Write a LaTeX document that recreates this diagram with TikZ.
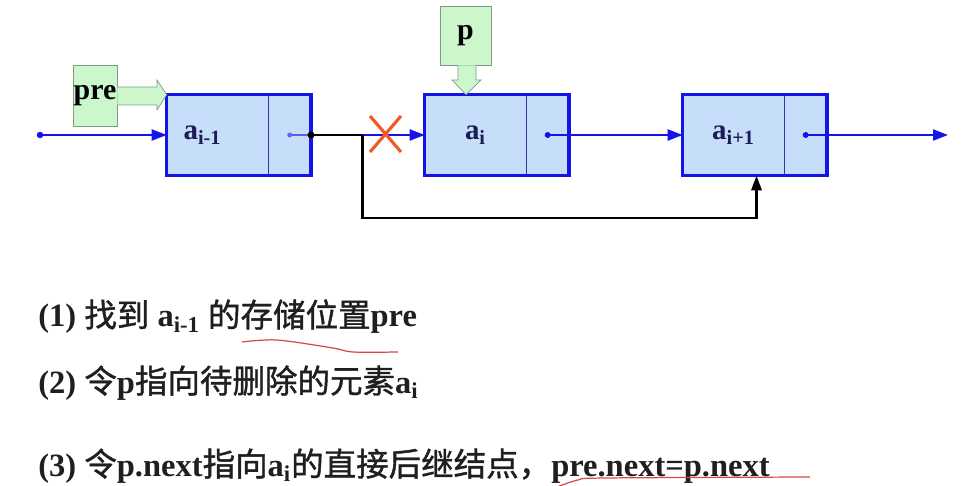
\documentclass[tikz,border=0pt]{standalone}
\usepackage{fontspec}
\setmainfont{Liberation Serif}
\newfontfamily\cjk[FakeBold=1.2]{Noto Sans CJK SC}
\newcommand\zh[1]{{\cjk\mdseries #1}}
\usepackage{tikz}
\usetikzlibrary{arrows.meta,positioning,calc}
\definecolor{cellfill}{HTML}{C6DEFA}
\definecolor{cellblue}{HTML}{1414E6}
\definecolor{splitblue}{HTML}{3434A8}
\definecolor{labnavy}{HTML}{1C1C58}
\definecolor{tagfill}{HTML}{CCF6CC}
\definecolor{tagedge}{HTML}{809C80}
\definecolor{crossred}{HTML}{F05A28}
\definecolor{penred}{HTML}{D84848}
\tikzset{
  datcell/.style={rectangle,fill=cellfill,inner sep=0pt,
                  minimum width=2.02cm,minimum height=1.6cm,
                  font=\fontsize{16.5}{19}\selectfont\bfseries,text=labnavy},
  ptrcell/.style={rectangle,fill=cellfill,inner sep=0pt,
                  minimum width=0.84cm,minimum height=1.6cm},
  outline/.style={draw=cellblue,line width=1.8pt},
  divide/.style={draw=splitblue,line width=0.6pt},
  link/.style={-{Triangle[length=0.3cm,width=0.22cm]},cellblue,line width=1.3pt},
  relink/.style={-{Triangle[length=0.3cm,width=0.2cm]},black,line width=1.7pt},
  tag/.style={rectangle,draw=tagedge,fill=tagfill,inner sep=0pt,
              font=\fontsize{17}{20}\selectfont\bfseries},
  step text/.style={anchor=base west,inner sep=0pt,
                    font=\fontsize{18.5}{22}\selectfont\bfseries,text=black!88},
}

\begin{document}
\begin{tikzpicture}[x=0.2mm,y=-0.2mm]
    \useasboundingbox (0,0) rectangle (970,486);

    % list cells
    \node[datcell] (a1) at (217.5,135) {a\textsubscript{i-1}\kern0.6cm};
    \node[ptrcell,right=0pt of a1] (p1) {};
    \node[datcell] (a2) at (475.5,135) {a\textsubscript{i}};
    \node[ptrcell,right=0pt of a2] (p2) {};
    \node[datcell] (a3) at (733.5,135) {a\textsubscript{i+1}};
    \node[ptrcell,right=0pt of a3] (p3) {};
    \foreach \d/\p in {a1/p1,a2/p2,a3/p3}{
      \draw[divide] (\p.north west) -- (\p.south west);
      \draw[outline] (\d.north west) rectangle (\p.south east);
    }

    % pointer tags
    \node[tag,minimum width=0.88cm,minimum height=1.22cm] (pre) at (95,95.5) {pre};
    \node[tag,minimum width=1.02cm,minimum height=1.18cm] (p) at (465.5,35.5) {p};
    \filldraw[fill=tagfill,draw=tagedge]
      (pre.east |- 0,87) -- (157,87) -- (157,80) -- (a1.north west)
      -- (157,110) -- (157,105) -- (pre.east |- 0,105);
    \filldraw[fill=tagfill,draw=tagedge]
      (458,0 |- p.south) -- (458,80) -- (452,80) -- (a2.north -| 466,0)
      -- (481,80) -- (476,80) -- (476,0 |- p.south);

    % links
    \coordinate (head) at (40,135);
    \coordinate (tail) at (948,135);
    \coordinate (split) at (362,135);
    \fill[cellblue] (head) circle[radius=0.65mm];
    \draw[link] (head) -- (a1.west);
    \draw[cellblue!70,line width=0.6pt] (p1.center) -- (p1.east);
    \fill[cellblue!65] (p1.center) circle[radius=0.5mm];
    \fill[black] (p1.east) circle[radius=0.7mm];
    \draw[black,line width=1.7pt] (p1.east) -- (split);
    \draw[link] (split) -- (a2.west);
    \draw[relink] (split) -- ++(0,83) -| ($(a3.south)+(23,0)$);
    \fill[cellblue] (p2.center) circle[radius=0.6mm];
    \draw[link] (p2.center) -- (a3.west);
    \fill[cellblue] (p3.center) circle[radius=0.6mm];
    \draw[link] (p3.center) -- (tail);

    % broken link
    \draw[crossred,line width=1.8pt] (370,116) -- (401,152) (370,152) -- (401,116);

    % steps
    \node[step text] (s1) at (38,327)
      {(1) \zh{找到} a\textsubscript{i-1} \zh{的存储位置}pre};
    \node[step text] (s2) at (38,393)
      {(2) \zh{令}p\zh{指向待删除的元素}a\textsubscript{i}};
    \node[step text] (s3) at (38,476)
      {(3) \zh{令}p.next\zh{指向}a\textsubscript{i}\zh{的直接后继结点，}pre.next=p.next};

    % pen marks
    \draw[penred,line width=0.7pt] plot[smooth] coordinates
      {(242,342) (277,340) (333,348) (353,352) (398,352)};
    \draw[penred,line width=0.7pt] plot[smooth] coordinates
      {(557,487) (578,480) (605,478) (810,477)};
\end{tikzpicture}
\end{document}
